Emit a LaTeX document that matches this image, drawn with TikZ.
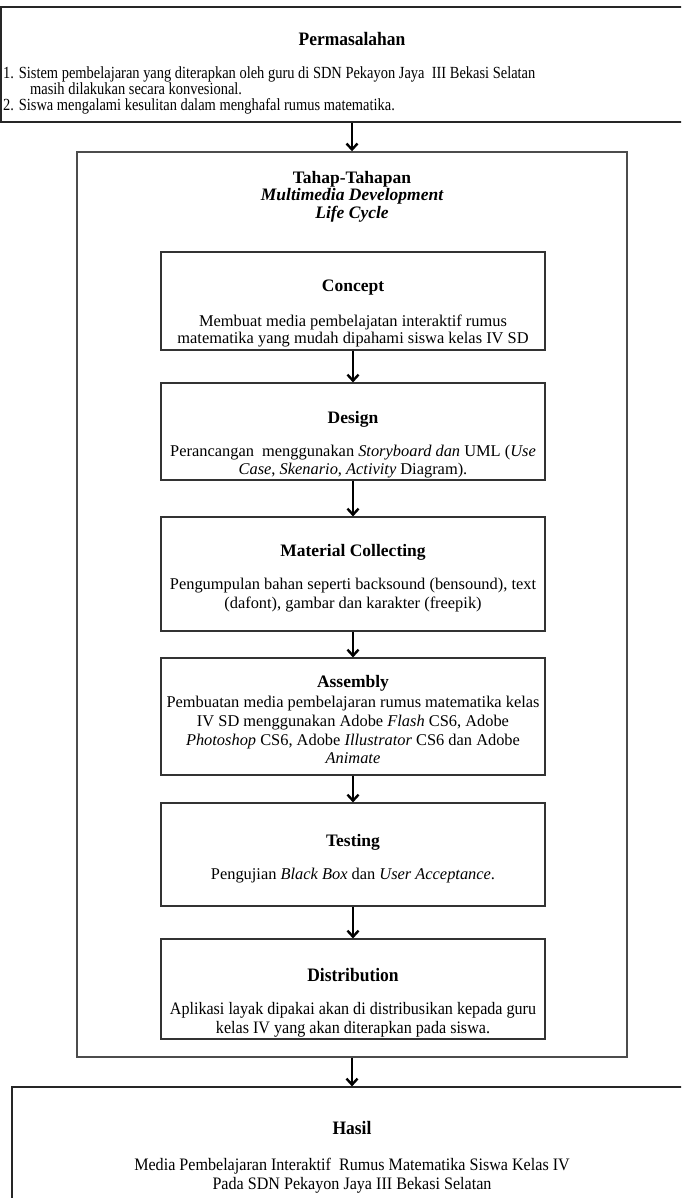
\documentclass[tikz,border=0pt]{standalone}
\usepackage{fontspec}
\setmainfont{Liberation Serif}
\newfontfamily\condA[FakeStretch=0.85]{Liberation Serif}
\newfontfamily\condB[FakeStretch=0.92]{Liberation Serif}
\usetikzlibrary{arrows.meta}
\tikzset{
  box/.style={draw=black!80, line width=1.1pt, minimum width=384pt, inner sep=0pt},
  bigbox/.style={draw=black!70, line width=1.4pt, inner sep=0pt},
  t/.style={anchor=base, inner sep=0pt, font=\fontsize{16.4}{19}\selectfont},
  tw/.style={anchor=base west, inner sep=0pt, font=\fontsize{17}{19}\selectfont\condA},
  tc/.style={anchor=base, inner sep=0pt, font=\fontsize{17.5}{19}\selectfont\condB},
  ttl/.style={anchor=base, inner sep=0pt, font=\fontsize{17.5}{20}\selectfont\bfseries},
  ttlc/.style={anchor=base, inner sep=0pt, font=\fontsize{19}{20}\selectfont\bfseries\condB},
  arr/.style={line width=2.4pt, -{Straight Barb[length=6pt,width=11pt,line width=2.4pt]}}
}
\begin{document}
\begin{tikzpicture}[x=1pt,y=-1pt]
\useasboundingbox (0,0) rectangle (681,1198);
\clip (0,0) rectangle (681,1198);
% Permasalahan
\node[bigbox, draw=black!85, line width=1.2pt, minimum width=699pt, minimum height=115pt] (top) at (350.5,64.5) {};
\node[ttlc] (ptitle) at (352,46) {Permasalahan};
\node[tw] (p1) at (3,79) {1. Sistem pembelajaran yang diterapkan oleh guru di SDN Pekayon Jaya \ III Bekasi Selatan};
\node[tw] (p2) at (30,95) {masih dilakukan secara konvesional.};
\node[tw] (p3) at (3,111) {2. Siswa mengalami kesulitan dalam menghafal rumus matematika.};
% Outer
\node[bigbox, minimum width=550pt, minimum height=905pt] (outer) at (352,604.5) {};
\node[ttl] (o1) at (352,184) {Tahap-Tahapan};
\node[ttl, font=\fontsize{17.5}{20}\selectfont\bfseries\itshape] (o2) at (352,201) {Multimedia Development};
\node[ttl, font=\fontsize{17.5}{20}\selectfont\bfseries\itshape] (o3) at (352,219) {Life Cycle};
% Concept
\node[box, minimum height=98pt] (concept) at (353,301) {};
\node[ttl] (c0) at (353,291) {Concept};
\node[t] (c1) at (353,326) {Membuat media pembelajatan interaktif rumus};
\node[t] (c2) at (353,343) {matematika yang mudah dipahami siswa kelas IV SD};
% Design
\node[box, minimum height=97pt] (design) at (353,431.5) {};
\node[ttl] (d0) at (353,423) {Design};
\node[t] (d1) at (353,456) {Perancangan \ menggunakan \textit{Storyboard dan} UML (\textit{Use}};
\node[t] (d2) at (353,474) {\textit{Case}, \textit{Skenario}, \textit{Activity} Diagram).};
% Material
\node[box, minimum height=114pt] (material) at (353,574) {};
\node[ttl] (m0) at (353,556) {Material Collecting};
\node[t] (m1) at (353,589) {Pengumpulan bahan seperti backsound (bensound), text};
\node[t] (m2) at (353,608) {(dafont), gambar dan karakter (freepik)};
% Assembly
\node[box, minimum height=117pt] (assembly) at (353,716.5) {};
\node[ttl] (a0) at (353,687) {Assembly};
\node[t] (a1) at (353,707) {Pembuatan media pembelajaran rumus matematika kelas};
\node[t] (a2) at (353,726) {IV SD menggunakan Adobe \textit{Flash} CS6, Adobe};
\node[t] (a3) at (353,745) {\textit{Photoshop} CS6, Adobe \textit{Illustrator} CS6 dan Adobe};
\node[t] (a4) at (353,763) {\textit{Animate}};
% Testing
\node[box, minimum height=103pt] (testing) at (353,854.5) {};
\node[ttl] (t0) at (353,846) {Testing};
\node[t] (t1) at (353,879) {Pengujian \textit{Black Box} dan \textit{User Acceptance}.};
% Distribution
\node[box, minimum height=100pt] (distribution) at (353,989) {};
\node[ttlc] (di0) at (353,981) {Distribution};
\node[tc] (di1) at (353,1014) {Aplikasi layak dipakai akan di distribusikan kepada guru};
\node[tc] (di2) at (353,1033) {kelas IV yang akan diterapkan pada siswa.};
% Hasil
\node[bigbox, draw=black!85, line width=1.2pt, minimum width=690pt, minimum height=130pt] (hasil) at (357,1152) {};
\node[ttlc] (h0) at (352,1134) {Hasil};
\node[tc] (h1) at (352,1170) {Media Pembelajaran Interaktif \ Rumus Matematika Siswa Kelas IV};
\node[tc] (h2) at (352,1189) {Pada SDN Pekayon Jaya III Bekasi Selatan};
% arrows
\draw[arr] (top.south -| outer.north) -- (outer.north);
\draw[arr] (concept.south) -- (design.north);
\draw[arr] (design.south) -- (material.north);
\draw[arr] (material.south) -- (assembly.north);
\draw[arr] (assembly.south) -- (testing.north);
\draw[arr] (testing.south) -- (distribution.north);
\draw[arr] (outer.south) -- (outer.south |- hasil.north);
\end{tikzpicture}
\end{document}
